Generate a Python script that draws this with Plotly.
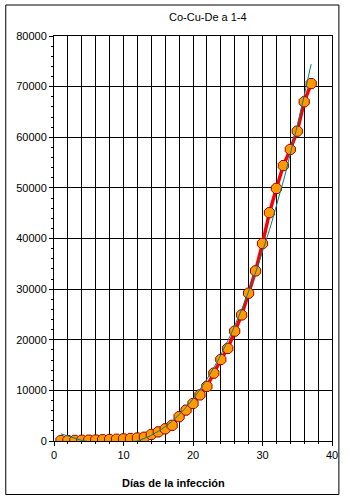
import numpy as np
import plotly.graph_objects as go

# Data
days = list(range(1, 38))
cases = [100, 100, 120, 150, 170, 200, 250, 300, 350, 420,
         500, 600, 750, 1300, 1800, 2400, 3100, 4800, 6100, 7400,
         9100, 10800, 13400, 16100, 18300, 21700, 24900, 29200, 33600, 39000,
         45100, 49900, 54400, 57600, 61200, 67000, 70600]

title_text = "Co-Cu-De a 1-4"
x_title = "Días de la infección"
x_ticks = [0, 10, 20, 30, 40]
y_ticks = [0, 10000, 20000, 30000, 40000, 50000, 60000, 70000, 80000]

# Polynomial trendline (as Excel does) over the data range
coef = np.polyfit(days, cases, 3)
trend_x = np.linspace(days[0], days[-1], 200)
trend_y = np.polyval(coef, trend_x)

FONT = "Arial, Liberation Sans, sans-serif"

fig = go.Figure()
fig.add_trace(go.Scatter(
    x=days, y=cases, mode="lines+markers",
    line=dict(color="#FF0000", width=3.5),
    marker=dict(symbol="octagon", size=11, color="#FF9900",
                line=dict(color="#990000", width=1)),
    showlegend=False, hoverinfo="skip"))
fig.add_trace(go.Scatter(
    x=trend_x, y=trend_y, mode="lines",
    line=dict(color="#008080", width=1),
    showlegend=False, hoverinfo="skip"))

L, R, T, B = 54, 336.5, 36, 441
W, H = 350, 500
pw, ph = R - L, B - T

def px(x):
    return (x - L) / pw

def py(y):
    return (B - y) / ph

fig.update_layout(
    width=W, height=H,
    margin=dict(l=L, r=W - R, t=T, b=H - B, pad=0),
    paper_bgcolor="white", plot_bgcolor="white",
    font=dict(family=FONT, size=11, color="black"),
    xaxis=dict(range=[0, 40], tickvals=x_ticks, ticks="outside", ticklen=4,
               tickcolor="black", showgrid=False, zeroline=False,
               showline=True, linecolor="black", linewidth=1, mirror=True,
               tickfont=dict(family=FONT, size=11, color="black"),
               minor=dict(dtick=2, showgrid=True, gridcolor="black",
                          gridwidth=1, ticks="outside", ticklen=2,
                          tickcolor="black")),
    yaxis=dict(range=[0, 80000], tickvals=y_ticks, ticks="outside", ticklen=4,
               tickcolor="black", showgrid=True, gridcolor="black", gridwidth=1,
               zeroline=False, showline=True, linecolor="black", linewidth=1,
               mirror=True, tickformat="d",
               tickfont=dict(family=FONT, size=11, color="black"),
               minor=dict(dtick=2000, ticks="outside", ticklen=2,
                          tickcolor="black", showgrid=False)),
    shapes=[dict(type="rect", xref="paper", yref="paper",
                 x0=px(5), x1=px(343.5), y0=py(494.5), y1=py(5),
                 line=dict(color="black", width=1), layer="below")],
    annotations=[
        dict(text=title_text, xref="paper", yref="paper", x=px(210), y=py(16.5),
             showarrow=False, xanchor="center", yanchor="middle",
             font=dict(family=FONT, size=11, color="black")),
        dict(text="<b>" + x_title + "</b>", xref="paper", yref="paper",
             x=px(175), y=py(483), showarrow=False, xanchor="center",
             yanchor="middle", font=dict(family=FONT, size=11, color="black")),
    ],
)

fig.write_html("out.html")
